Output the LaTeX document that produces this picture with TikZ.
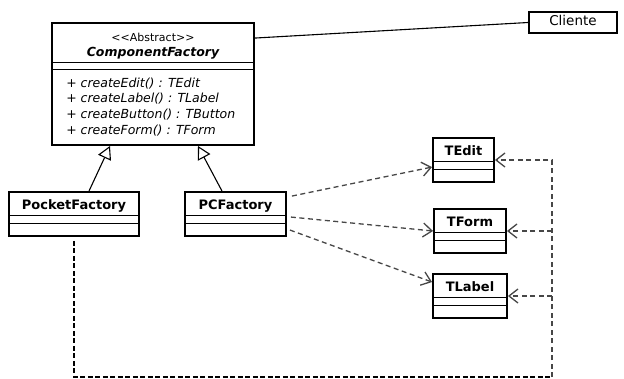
\documentclass[tikz,border=0pt]{standalone}
\usepackage{fontspec}
\setmainfont{DejaVu Sans}
\usetikzlibrary{arrows.meta,positioning}

\begin{document}
\begin{tikzpicture}[x=1pt,y=-1pt,
  classbox/.style={draw, line width=1.9pt, inner sep=0pt, minimum height=44pt},
  classname/.style={anchor=base, inner sep=0pt, font=\fontsize{13}{15}\selectfont\bfseries},
  stereo/.style={anchor=base, inner sep=0pt, font=\fontsize{11}{13}\selectfont},
  method/.style={anchor=base west, inner sep=0pt, font=\fontsize{12.5}{15}\selectfont},
  sepline/.style={line width=0.9pt},
  assoc/.style={line width=1.1pt},
  gen/.style={line width=1.1pt, -{Triangle[open, length=13pt, width=14pt]}},
  dep/.style={line width=1.3pt, black!72, dash pattern=on 5pt off 3.5pt,
              -{Straight Barb[length=9pt, width=14pt]}},
  rail/.style={line width=1.4pt, black, dash pattern=on 5pt off 2.5pt}]

% Room for the whole picture
\useasboundingbox (0,0) rectangle (624,378);

% -----------------------------
% Abstract factory + client
% -----------------------------
\node[classbox, minimum width=202pt, minimum height=122pt] (cf) at (153,84) {};
\node[stereo] (cfstereo) at ([yshift=-19pt]cf.north) {\mbox{<}\mbox{<}Abstract\mbox{>}\mbox{>}};
\node[classname, font=\fontsize{12.5}{15}\selectfont\bfseries\itshape] (cfname)
  at ([yshift=-34pt]cf.north) {ComponentFactory};
\draw[sepline] ([yshift=-40pt]cf.north west) -- ([yshift=-40pt]cf.north east);
\draw[sepline] ([yshift=-47pt]cf.north west) -- ([yshift=-47pt]cf.north east);

% operations, one per line
\foreach \m [count=\i] in {createEdit() : TEdit, createLabel() : TLabel,
                           createButton() : TButton, createForm() : TForm} {%
  \node[method] (op\i) at ([xshift=15pt, yshift={-65pt-15.7pt*(\i-1)}]cf.north west)
    {+ \textit{\m}};%
}

\node[draw, line width=1.9pt, minimum width=88pt, minimum height=21pt, inner sep=0pt] (cliente)
  at (573,22.5) {};
\node[anchor=base, inner sep=0pt, font=\fontsize{13.5}{16}\selectfont] (clientename)
  at ([yshift=-14pt]cliente.north) {Cliente};

% -----------------------------
% Concrete factories and products
% -----------------------------
\node[classbox, minimum width=130pt] (pocket) at (74,214) {};
\node[classbox, minimum width=101pt] (pcf)    at (235.5,214) {};
\node[classbox, minimum width=61pt]  (tedit)  at (463.5,160) {};
\node[classbox, minimum width=72pt]  (tform)  at (470,231) {};
\node[classbox, minimum width=74pt]  (tlabel) at (470,296) {};

\node[classname] (pocketname) at ([yshift=-18pt]pocket.north) {PocketFactory};
\node[classname] (pcfname)    at ([yshift=-18pt]pcf.north)    {PCFactory};
\node[classname] (teditname)  at ([yshift=-18pt]tedit.north)  {TEdit};
\node[classname] (tformname)  at ([yshift=-18pt]tform.north)  {TForm};
\node[classname] (tlabelname) at ([yshift=-18pt]tlabel.north) {TLabel};

% empty attribute / operation parts
\foreach \c in {pocket,pcf,tedit,tform,tlabel} {%
  \draw[sepline] ([yshift=-24pt]\c.north west) -- ([yshift=-24pt]\c.north east);
  \draw[sepline] ([yshift=-32pt]\c.north west) -- ([yshift=-32pt]\c.north east);
}

% -----------------------------
% Connectors
% -----------------------------
\draw[assoc] ([yshift=-16pt]cf.north east) -- (cliente.west);

\draw[gen] ([xshift=15pt]pocket.north) -- ([xshift=-43pt]cf.south);
\draw[gen] ([xshift=-13.5pt]pcf.north) -- ([xshift=45pt]cf.south);

\draw[dep] ([xshift=5pt,yshift=-5pt]pcf.north east)  -- ([yshift=-30pt]tedit.north west);
\draw[dep] ([xshift=4pt,yshift=-26pt]pcf.north east) -- (tform.west);
\draw[dep] ([xshift=3pt,yshift=-39pt]pcf.north east) -- ([yshift=-9pt]tlabel.north west);

% dependency bus from PocketFactory
\coordinate (railend) at (552,377);
\draw[rail] ([yshift=-4pt]pocket.south) |- (railend);
\draw[dep] (railend) |- (tedit.east);
\draw[dep] (railend |- tform.east) -- (tform.east);
\draw[dep] (railend |- tlabel.east) -- (tlabel.east);

\end{tikzpicture}
\end{document}
